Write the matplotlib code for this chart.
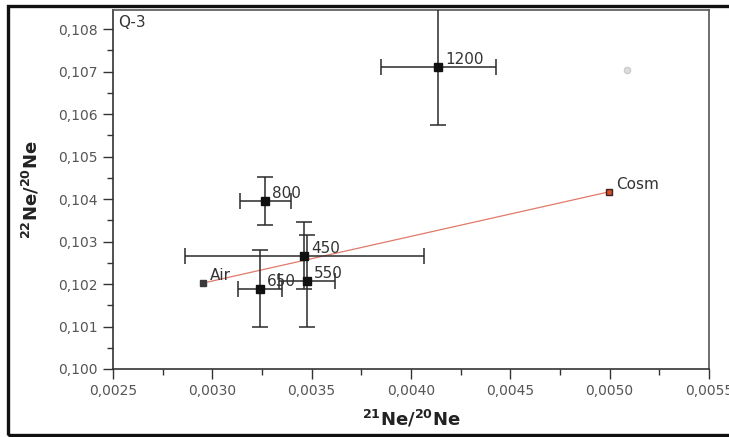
import matplotlib
matplotlib.use("Agg")
import matplotlib.pyplot as plt
from matplotlib.patches import Rectangle
from matplotlib.ticker import MultipleLocator, FuncFormatter

plt.rcParams['font.family'] = ['DejaVu Sans']
plt.rcParams['mathtext.default'] = 'regular'

# Step-heating temperatures (°C) with neon isotope ratios and 1-sigma errors
labels = ["450", "550", "650", "800", "1200"]
ne21_20 = [0.003463, 0.003476, 0.003239, 0.003267, 0.004138]
ne22_20 = [0.10267, 0.10207, 0.10189, 0.10396, 0.10711]
x_err = [0.00060, 0.00014, 0.00011, 0.00013, 0.00029]
y_err = [0.00078, 0.00108, 0.00090, 0.00056, 0.00137]

# End-member compositions
end_names = ["Air", "Cosm"]
end_x = [0.002951, 0.004997]
end_y = [0.10202, 0.10417]

# Stray faint point
faint_x = [0.005086]
faint_y = [0.10704]

fig = plt.figure(figsize=(7.29, 4.37), dpi=100)
ax = fig.add_axes([113 / 729, (437 - 369) / 437, (709 - 113) / 729, (369 - 10) / 437])

# Air–cosmogenic mixing line
ax.plot(end_x, end_y, color='#e07a6a', lw=0.9, zorder=2)

ax.errorbar(ne21_20, ne22_20, xerr=x_err, yerr=y_err, fmt='s', ms=5.5,
            color='#111111', ecolor='#2a2a2a', elinewidth=1.1, capsize=5.5,
            capthick=1.1, zorder=3)

ax.plot(end_x[0], end_y[0], marker='s', ms=4.5, color='#3a3a3a', ls='none', zorder=4)
ax.plot(end_x[1], end_y[1], marker='s', ms=5, color='#d0502a', mec='#402020',
        ls='none', zorder=4)
ax.plot(faint_x, faint_y, marker='o', ms=4.5, color='#dddddd', mec='#cccccc',
        ls='none', zorder=1)

for name, x, y in zip(labels, ne21_20, ne22_20):
    ax.annotate(name, (x, y), xytext=(5, 2), textcoords='offset points',
                fontsize=11, color='#333333', va='baseline', ha='left')
for name, x, y in zip(end_names, end_x, end_y):
    ax.annotate(name, (x, y), xytext=(5, 2), textcoords='offset points',
                fontsize=11, color='#333333', va='baseline', ha='left')

ax.text(0.008, 0.985, "Q-3", transform=ax.transAxes, fontsize=11,
        color='#333333', va='top', ha='left')

ax.set_xlim(0.0025, 0.0055)
ax.set_ylim(0.100, 0.10845)
ax.xaxis.set_major_locator(MultipleLocator(0.0005))
ax.xaxis.set_minor_locator(MultipleLocator(0.00025))
ax.yaxis.set_major_locator(MultipleLocator(0.001))
ax.yaxis.set_minor_locator(MultipleLocator(0.0005))
ax.xaxis.set_major_formatter(FuncFormatter(lambda v, p: f"{v:.4f}".replace('.', ',')))
ax.yaxis.set_major_formatter(FuncFormatter(lambda v, p: f"{v:.3f}".replace('.', ',')))
ax.tick_params(which='major', length=7, width=1.0, color='#333333',
               labelsize=10, labelcolor='#555555', pad=4)
ax.tick_params(which='minor', length=4, width=1.0, color='#333333')

for side in ['left', 'bottom']:
    ax.spines[side].set_color('#333333')
    ax.spines[side].set_linewidth(1.2)
for side in ['top', 'right']:
    ax.spines[side].set_color('#555555')
    ax.spines[side].set_linewidth(1.2)

ax.set_xlabel("$^{21}$Ne/$^{20}$Ne", fontsize=13, fontweight='bold', color='#222222',
              labelpad=7)
ax.set_ylabel("$^{22}$Ne/$^{20}$Ne", fontsize=13, fontweight='bold', color='#222222',
              labelpad=12)

# Outer frame around the figure
fig.patches.append(Rectangle((8 / 729, 2 / 437), 1.0, (435 - 6) / 437,
                             transform=fig.transFigure, fill=False,
                             edgecolor='#111111', lw=2.4, zorder=10))

fig.savefig("out.png", dpi=100)
